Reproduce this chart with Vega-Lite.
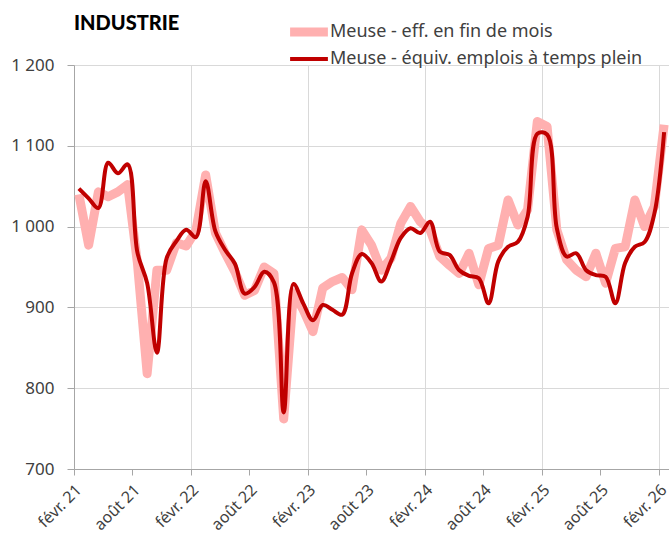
{
  "$schema": "https://vega.github.io/schema/vega-lite/v6.json",
  "width": 595,
  "height": 404,
  "autosize": {"type": "none"},
  "padding": {"left": 74, "top": 65, "right": 0, "bottom": 68},
  "background": "white",
  "config": {"view": {"stroke": null}},
  "title": {"text": "INDUSTRIE", "anchor": "start", "frame": "group", "font": "Lato", "fontSize": 20, "fontWeight": 900, "color": "#000000", "offset": -27, "baseline": "alphabetic"},
  "data": {"values": [
    {"date": "2021-02", "eff": 1040, "etp": 1047},
    {"date": "2021-03", "eff": 977, "etp": 1035},
    {"date": "2021-04", "eff": 1043, "etp": 1023},
    {"date": "2021-05", "eff": 1037, "etp": 1079},
    {"date": "2021-06", "eff": 1043, "etp": 1066},
    {"date": "2021-07", "eff": 1052, "etp": 1077},
    {"date": "2021-08", "eff": 955, "etp": 968},
    {"date": "2021-09", "eff": 818, "etp": 930},
    {"date": "2021-10", "eff": 946, "etp": 844},
    {"date": "2021-11", "eff": 946, "etp": 961},
    {"date": "2021-12", "eff": 980, "etp": 982},
    {"date": "2022-01", "eff": 976, "etp": 996},
    {"date": "2022-02", "eff": 995, "etp": 987},
    {"date": "2022-03", "eff": 1064, "etp": 1056},
    {"date": "2022-04", "eff": 992, "etp": 994},
    {"date": "2022-05", "eff": 967, "etp": 971},
    {"date": "2022-06", "eff": 944, "etp": 954},
    {"date": "2022-07", "eff": 915, "etp": 917},
    {"date": "2022-08", "eff": 921, "etp": 925},
    {"date": "2022-09", "eff": 950, "etp": 944},
    {"date": "2022-10", "eff": 942, "etp": 931},
    {"date": "2022-11", "eff": 762, "etp": 770},
    {"date": "2022-12", "eff": 918, "etp": 929},
    {"date": "2023-01", "eff": 897, "etp": 905},
    {"date": "2023-02", "eff": 870, "etp": 884},
    {"date": "2023-03", "eff": 924, "etp": 903},
    {"date": "2023-04", "eff": 932, "etp": 897},
    {"date": "2023-05", "eff": 937, "etp": 891},
    {"date": "2023-06", "eff": 922, "etp": 942},
    {"date": "2023-07", "eff": 996, "etp": 966},
    {"date": "2023-08", "eff": 977, "etp": 955},
    {"date": "2023-09", "eff": 946, "etp": 932},
    {"date": "2023-10", "eff": 961, "etp": 957},
    {"date": "2023-11", "eff": 1004, "etp": 986},
    {"date": "2023-12", "eff": 1025, "etp": 998},
    {"date": "2024-01", "eff": 1006, "etp": 992},
    {"date": "2024-02", "eff": 996, "etp": 1006},
    {"date": "2024-03", "eff": 963, "etp": 969},
    {"date": "2024-04", "eff": 952, "etp": 965},
    {"date": "2024-05", "eff": 942, "etp": 946},
    {"date": "2024-06", "eff": 967, "etp": 939},
    {"date": "2024-07", "eff": 928, "etp": 936},
    {"date": "2024-08", "eff": 973, "etp": 905},
    {"date": "2024-09", "eff": 977, "etp": 957},
    {"date": "2024-10", "eff": 1033, "etp": 975},
    {"date": "2024-11", "eff": 1002, "etp": 981},
    {"date": "2024-12", "eff": 1021, "etp": 1012},
    {"date": "2025-01", "eff": 1130, "etp": 1115},
    {"date": "2025-02", "eff": 1124, "etp": 1114},
    {"date": "2025-03", "eff": 996, "etp": 998},
    {"date": "2025-04", "eff": 959, "etp": 963},
    {"date": "2025-05", "eff": 946, "etp": 967},
    {"date": "2025-06", "eff": 938, "etp": 946},
    {"date": "2025-07", "eff": 967, "etp": 940},
    {"date": "2025-08", "eff": 930, "etp": 938},
    {"date": "2025-09", "eff": 973, "etp": 905},
    {"date": "2025-10", "eff": 975, "etp": 955},
    {"date": "2025-11", "eff": 1033, "etp": 975},
    {"date": "2025-12", "eff": 1000, "etp": 981},
    {"date": "2026-01", "eff": 1025, "etp": 1016},
    {"date": "2026-02", "eff": 1126, "etp": 1117}
  ]},
  "transform": [{"fold": ["eff", "etp"], "as": ["serie", "valeur"]}],
  "encoding": {
    "x": {
      "field": "date", "type": "ordinal", "bandPosition": 0.5,
      "scale": {"type": "band", "paddingInner": 0, "paddingOuter": 0},
      "axis": {
        "title": null,
        "values": ["2021-02","2021-08","2022-02","2022-08","2023-02","2023-08","2024-02","2024-08","2025-02","2025-08","2026-02"],
        "labelExpr": "(substring(datum.value,5,7)=='02' ? 'févr. ' : 'août ') + substring(datum.value,2,4)",
        "bandPosition": 0,
        "labelAngle": -45,
        "labelAlign": "right",
        "labelBaseline": "middle",
        "labelFont": "Noto Sans",
        "labelFontSize": 16,
        "labelColor": "#404040",
        "labelPadding": 12,
        "labelBound": false,
        "labelOverlap": false,
        "tickSize": 6,
        "tickColor": "#a6a6a6",
        "domainColor": "#a6a6a6",
        "grid": true,
        "gridColor": "#d9d9d9",
        "gridOpacity": {"condition": {"test": "substring(datum.value,5,7)=='02'", "value": 1}, "value": 0}
      }
    },
    "y": {
      "field": "valeur", "type": "quantitative",
      "scale": {"domain": [700, 1200], "nice": false, "zero": false},
      "axis": {
        "title": null,
        "values": [700, 800, 900, 1000, 1100, 1200],
        "labelExpr": "datum.value >= 1000 ? floor(datum.value/1000) + ' ' + format(datum.value % 1000, '03d') : '' + datum.value",
        "labelFont": "Noto Sans",
        "labelFontSize": 17,
        "labelColor": "#404040",
        "labelPadding": 13,
        "tickSize": 7,
        "tickColor": "#a6a6a6",
        "domainColor": "#a6a6a6",
        "gridColor": "#d9d9d9"
      }
    },
    "color": {
      "field": "serie", "type": "nominal",
      "scale": {"domain": ["eff", "etp"], "range": ["#ffb0b0", "#c00000"]},
      "legend": {
        "orient": "none", "legendX": 226, "legendY": -42, "title": null, "padding": 0,
        "labelExpr": "datum.value == 'eff' ? 'Meuse - eff. en fin de mois' : 'Meuse - équiv. emplois à temps plein'",
        "labelFont": "Noto Sans", "labelFontSize": 18, "labelColor": "#404040", "labelLimit": 400,
        "symbolType": "M-6.3,0H6.3", "symbolSize": 36, "labelOffset": 12, "rowPadding": 0
      }
    },
    "strokeWidth": {
      "field": "serie", "type": "nominal",
      "scale": {"domain": ["eff", "etp"], "range": [9, 4]},
      "legend": {
        "orient": "none", "legendX": 226, "legendY": -42, "title": null, "padding": 0,
        "labelExpr": "datum.value == 'eff' ? 'Meuse - eff. en fin de mois' : 'Meuse - équiv. emplois à temps plein'",
        "labelFont": "Noto Sans", "labelFontSize": 18, "labelColor": "#404040", "labelLimit": 400,
        "symbolType": "M-6.3,0H6.3", "symbolSize": 36, "labelOffset": 12, "rowPadding": 0
      }
    }
  },
  "layer": [
    {"transform": [{"filter": "datum.serie == 'eff'"}], "mark": {"type": "line", "interpolate": "linear", "strokeJoin": "round"}},
    {"transform": [{"filter": "datum.serie == 'etp'"}], "mark": {"type": "line", "interpolate": "catmull-rom", "strokeJoin": "round"}}
  ]
}
